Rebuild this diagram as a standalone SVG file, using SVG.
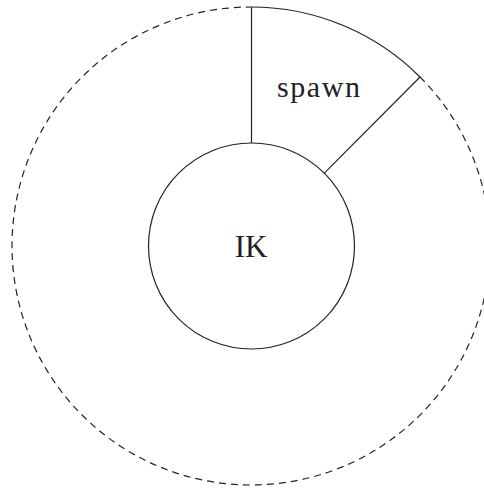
<svg xmlns="http://www.w3.org/2000/svg" width="484" height="489" viewBox="0 0 484 489">
<style>
.ln{fill:none;stroke:#222;stroke-width:1.2}
.dash{fill:none;stroke:#222;stroke-width:1.2;stroke-dasharray:7 5}
.t{font-family:"Liberation Serif","DejaVu Serif",serif;fill:#222;text-anchor:middle}
</style>
<rect width="484" height="489" fill="#fff"/>
<g id="outer">
<path class="dash" d="M420,77 A239,239 0 1 1 251.5,7"/>
<path class="ln" d="M251.5,7 A239,239 0 0 1 420,77"/>
</g>
<g id="connectors">
<line class="ln" x1="251.5" y1="7" x2="251.5" y2="143"/>
<line class="ln" x1="420" y1="77" x2="324.3" y2="173.2"/>
</g>
<g id="spawn">
<text class="t" x="318.5" y="97" font-size="30" textLength="83" lengthAdjust="spacing">spawn</text>
</g>
<g id="IK">
<circle class="ln" cx="251.5" cy="246" r="103"/>
<text class="t" x="251" y="257" font-size="31">IK</text>
</g>
</svg>
